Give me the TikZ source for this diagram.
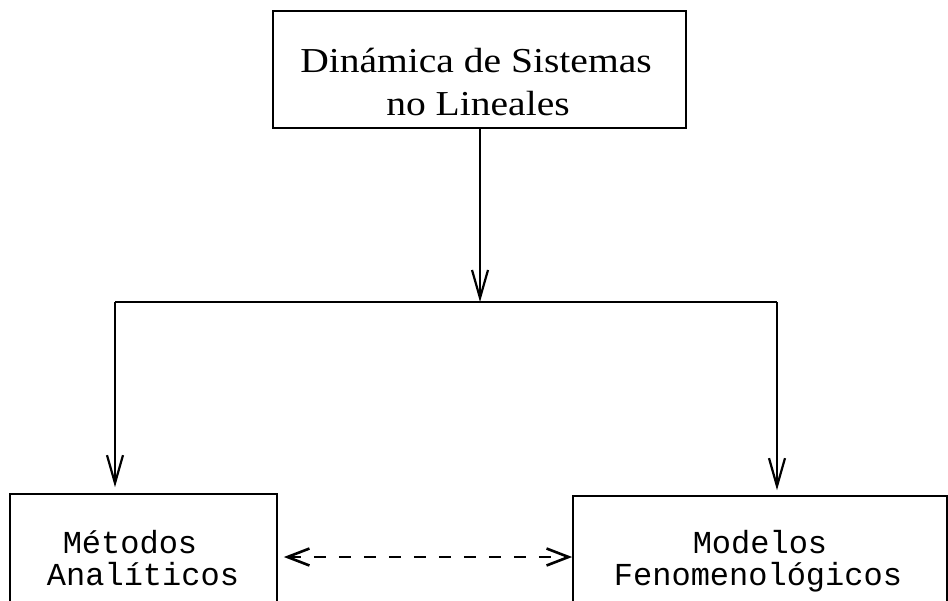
\documentclass[tikz,border=0pt]{standalone}
\usepackage{fontspec}
\usetikzlibrary{arrows.meta}
\newfontfamily\topfont[FakeStretch=1.13]{Liberation Serif}
\newfontfamily\boxfont{Liberation Mono}
\tikzset{
  boxline/.style={draw, line width=1.7pt, inner sep=0pt},
  conn/.style={line width=1.5pt},
  arr/.style={conn, -{Straight Barb[length=28pt,width=16pt,line width=2.2pt]}},
  darr/.style={conn, dash pattern=on 12pt off 13pt,
    {Straight Barb[length=22pt,width=17pt,line width=2.6pt]}-{Straight Barb[length=22pt,width=17pt,line width=2.6pt]}},
  toptext/.style={anchor=base, inner sep=0pt, font=\topfont\fontsize{35}{40}\selectfont},
  btext/.style={anchor=base, inner sep=0pt, font=\boxfont\fontsize{32}{36}\selectfont},
}
\begin{document}
\begin{tikzpicture}[x=1pt,y=-1pt]
\useasboundingbox (0,0) rectangle (948,600);
\clip (0,0) rectangle (948,600);
% boxes
\node[boxline, minimum width=413pt, minimum height=117pt] (top) at (479.5,69.5) {};
\node[boxline, minimum width=267pt, minimum height=126pt] (left) at (143.5,557) {};
\node[boxline, minimum width=374pt, minimum height=122pt] (right) at (760,557) {};
% texts
\node[toptext] (t1) at (476,72) {Dinámica de Sistemas};
\node[toptext] (t2) at (478,115) {no Lineales};
\node[btext] (l1) at (130,553) {Métodos};
\node[btext] (l2) at (143,585) {Analíticos};
\node[btext] (r1) at (760,553) {Modelos};
\node[btext] (r2) at (758,585) {Fenomenológicos};
% connectors
\coordinate (junc) at (480,302);
\coordinate (jl) at (115,302);
\coordinate (jr) at (777,302);
\draw[arr] (top.south -| junc) -- (junc);
\draw[conn] (jl) -- (jr);
\draw[arr, shorten >=6pt] (jl) -- (jl |- left.north);
\draw[arr, shorten >=5pt] (jr) -- (jr |- right.north);
\draw[darr, shorten <=6pt] (left.east) -- (right.west);
\end{tikzpicture}
\end{document}
